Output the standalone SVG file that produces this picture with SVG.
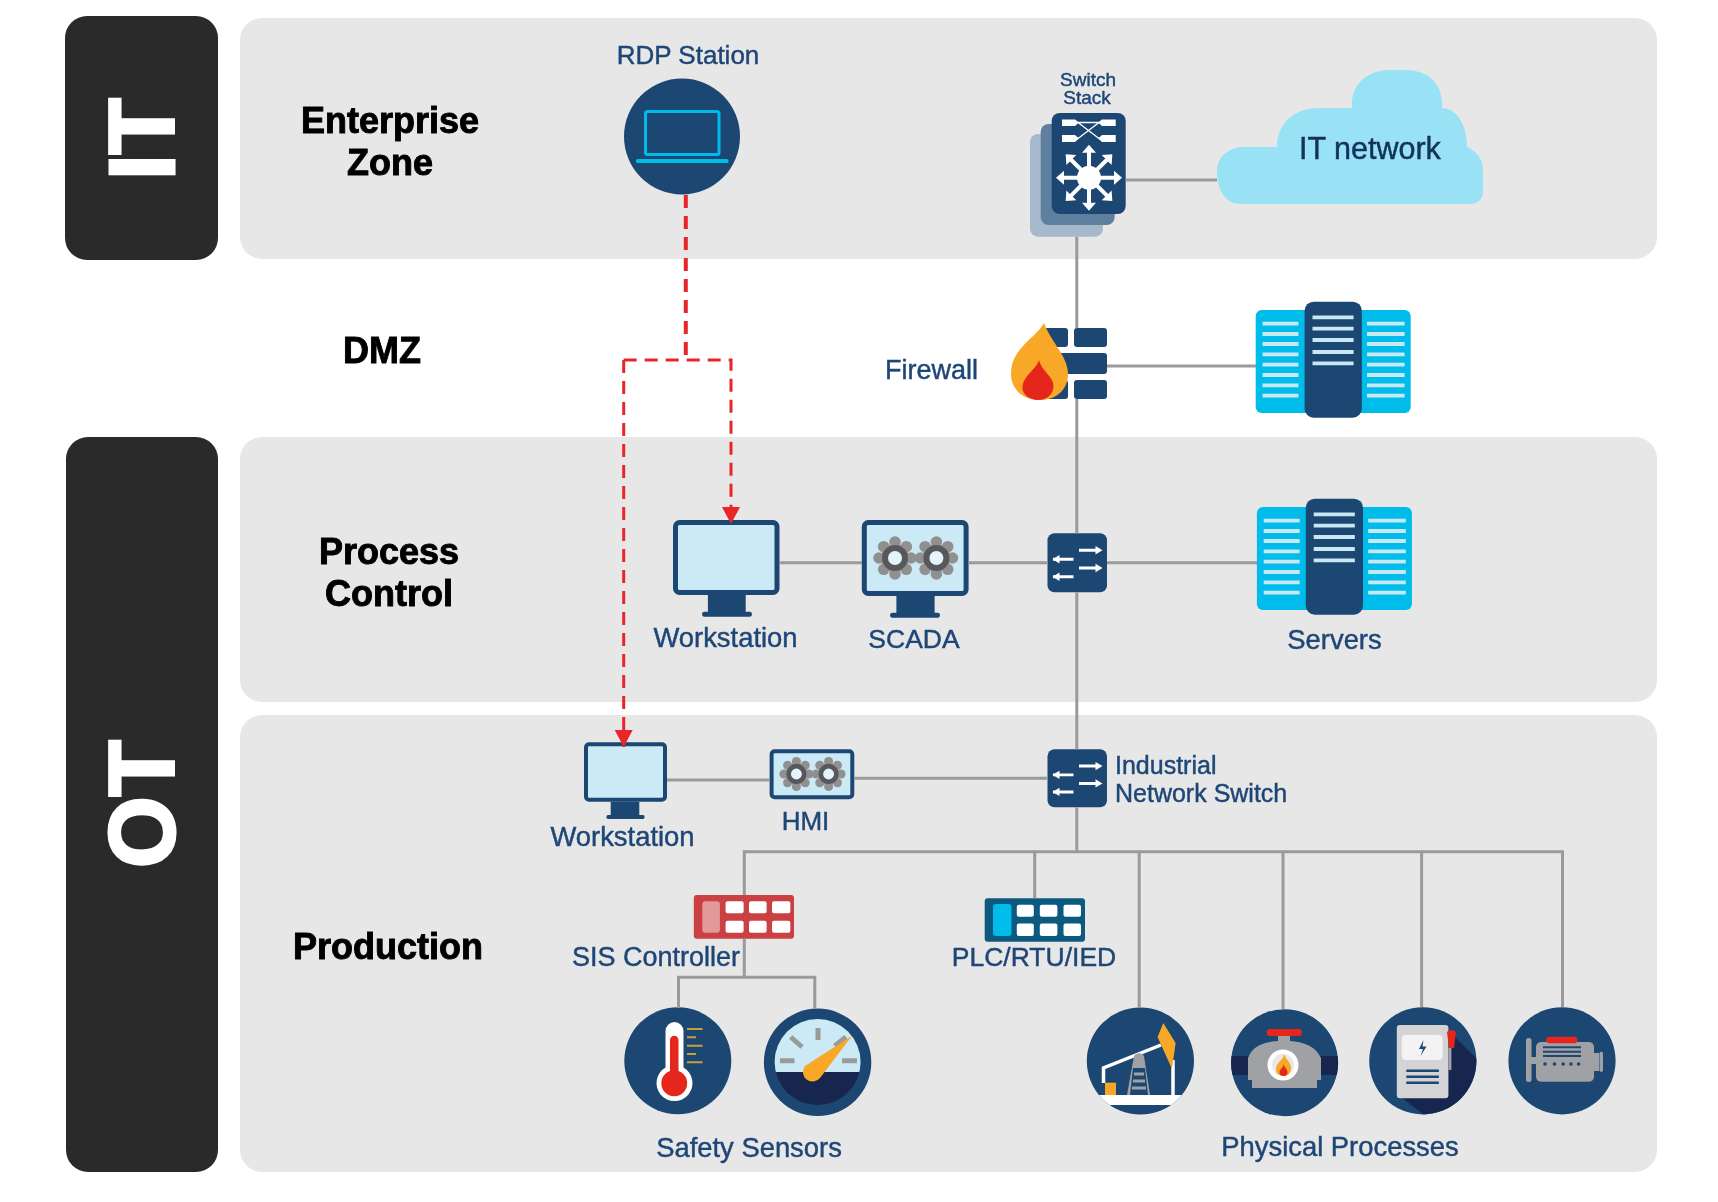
<svg xmlns="http://www.w3.org/2000/svg" xmlns:xlink="http://www.w3.org/1999/xlink" width="1718" height="1202" viewBox="0 0 1718 1202">
<style>
text{font-family:"Liberation Sans",Arial,sans-serif}
.panel{fill:#e7e7e7}
.side{fill:#292929}
.band{fill:#fff;stroke:#fff;stroke-width:3;font-weight:700;font-size:92px}
.zone{fill:#000;stroke:#000;stroke-width:.9;font-weight:700;font-size:36px;text-anchor:middle}
.lbl{fill:#1f4677;stroke:#1f4677;stroke-width:.45;font-size:27.400px}
.mid{text-anchor:middle}
.navy{fill:#1c4673}
.deep{fill:#12284f}
.sky{fill:#00bceb}
.grey{fill:#a0a1a5}
.screen{fill:#cbeaf6;stroke:#1c4673;stroke-width:5}
.link{fill:none;stroke:#9a9a9a;stroke-width:3}
.rdp{fill:none;stroke:#e8262a;stroke-width:3;stroke-dasharray:13 8}
.cell{fill:#fff}
.wht{fill:#fff}
.whs{fill:none;stroke:#fff;stroke-width:3.500}
.red{fill:#e5261c}
.org{fill:#f8a825}
</style>
<defs>
<filter id="soft" x="0" y="0" width="100%" height="100%"><feGaussianBlur stdDeviation="0.7"/></filter>
<marker id="arrow" markerUnits="userSpaceOnUse" markerWidth="18" markerHeight="18" refX="16" refY="8.500" orient="auto" viewBox="0 0 16 17"><path d="M0 0L16 8.500L0 17Z" fill="#e8262a"/></marker>
<g id="gear">
<g fill="#909090"><circle r="14"/><circle cy="-16" r="5.800"/><circle cy="16" r="5.800"/><circle cx="16" r="5.800"/><circle cx="-16" r="5.800"/><circle cx="11.300" cy="11.300" r="5.800"/><circle cx="-11.300" cy="11.300" r="5.800"/><circle cx="11.300" cy="-11.300" r="5.800"/><circle cx="-11.300" cy="-11.300" r="5.800"/></g>
<circle r="10" fill="#e4f4fa" stroke="#58595b" stroke-width="6"/>
</g>
<g id="swArrows">
<rect width="59.500" height="59" rx="7" class="navy"/>
<path d="M31.500 17H52M5.500 26H26M31.500 34.700H52M5.500 43.400H26" fill="none" stroke="#fff" stroke-width="3"/>
<path class="wht" d="M55 17L48 12.800V21.200ZM5 26L12 21.800V30.200ZM55 34.700L48 30.500V38.900ZM5 43.400L12 39.200V47.600Z"/>
</g>
<g id="rack">
<rect x="1255.700" y="310" width="155" height="103" rx="6" class="sky"/>
<rect x="1304.600" y="301.700" width="57.200" height="116" rx="9" class="navy"/>
<path d="M1262.500 323.700h36m-36 10.300h36m-36 10h36m-36 10.300h36m-36 10.400h36m-36 10.300h36m-36 10.300h36m-36 10.400h36M1367 323.700h37.600m-37.600 10.300h37.600m-37.600 10h37.600m-37.600 10.300h37.600m-37.600 10.400h37.600m-37.600 10.300h37.600m-37.600 10.300h37.600m-37.600 10.400h37.600M1312.500 317.300h41.100m-41.100 11.400h41.100m-41.100 11.300h41.100m-41.100 12h41.100m-41.100 11.300h41.100" fill="none" stroke="#c8e8f4" stroke-width="3.800"/>
</g>
<path id="ray" d="M0 -2H25V-7L33 0L25 7V2H0Z" fill="#fff"/>
<clipPath id="cPump"><circle cx="1140.400" cy="1061" r="53.600"/></clipPath>
<clipPath id="cValve"><circle cx="1284.600" cy="1062.700" r="53.500"/></clipPath>
<clipPath id="cPanel"><circle cx="1422.800" cy="1060.800" r="53.600"/></clipPath>
<clipPath id="cDial"><circle cx="817.600" cy="1062" r="43"/></clipPath>
</defs>
<rect width="1718" height="1202" fill="#fff"/>
<g filter="url(#soft)">
<g id="zones">
<rect class="side" x="65" y="16" width="153" height="244" rx="22"/>
<rect class="side" x="66" y="437" width="152" height="735" rx="22"/>
<rect class="panel" x="240" y="18" width="1417" height="241" rx="22"/>
<rect class="panel" x="240" y="437" width="1417" height="265" rx="22"/>
<rect class="panel" x="240" y="715" width="1417" height="457" rx="22"/>
<text class="band" transform="translate(174,180) rotate(-90)">IT</text>
<text class="band" transform="translate(174,868) rotate(-90)">OT</text>
<text class="zone" x="390" y="133">Enterprise</text>
<text class="zone" x="390" y="175">Zone</text>
<text class="zone" x="382" y="363">DMZ</text>
<text class="zone" x="389" y="563.500">Process</text>
<text class="zone" x="389" y="605.500">Control</text>
<text class="zone" x="388" y="959">Production</text>
</g>
<g id="rdp-station">
<text class="lbl mid" style="font-size:26px" x="688" y="64">RDP Station</text>
<circle cx="682" cy="136.500" r="58" class="navy"/>
<rect x="645.500" y="111.500" width="73.500" height="43" rx="2" fill="none" stroke="#00bceb" stroke-width="3"/>
<rect x="636" y="159" width="92.500" height="4" rx="1.500" class="sky"/>
</g>
<g id="switch-stack">
<text class="lbl mid" style="font-size:19px" x="1088" y="86">Switch</text>
<text class="lbl mid" style="font-size:19px" x="1087" y="104">Stack</text>
<rect x="1030" y="134" width="73" height="102.700" rx="8" fill="#a5b8cc"/>
<rect x="1040.700" y="124" width="74" height="101" rx="8" fill="#5f7f9f"/>
<rect x="1051.700" y="113" width="74" height="101" rx="8" class="navy"/>
<path class="wht" d="M1062 119.500H1075L1079 122.500L1075 126H1062ZM1115.700 119.500H1102L1098 122.500L1102 126H1115.700ZM1062 135H1075L1079 138.500L1075 142H1062ZM1115.700 135H1102L1098 138.500L1102 142H1115.700Z"/>
<path d="M1078 122.500L1099 138.500M1078 138.500L1099 122.500M1078 122.500H1099" stroke="#fff" stroke-width="1.300" fill="none"/>
<g transform="translate(1089,177.700)">
<use xlink:href="#ray" href="#ray"/>
<use xlink:href="#ray" href="#ray" transform="rotate(45)"/>
<use xlink:href="#ray" href="#ray" transform="rotate(90)"/>
<use xlink:href="#ray" href="#ray" transform="rotate(135)"/>
<use xlink:href="#ray" href="#ray" transform="rotate(180)"/>
<use xlink:href="#ray" href="#ray" transform="rotate(225)"/>
<use xlink:href="#ray" href="#ray" transform="rotate(270)"/>
<use xlink:href="#ray" href="#ray" transform="rotate(315)"/>
<circle r="12" fill="#fff"/>
</g>
</g>
<g id="it-network">
<path fill="#99e2f6" d="M1240 204C1226 204 1217 190 1217 172C1217 157 1228 147 1245 147H1277C1277 124 1293 108 1320 108H1352C1350 84 1368 70 1390 70H1405C1428 70 1444 84 1442 108C1456 108 1467 124 1467 147C1477 151 1483 160 1483 170V191C1483 199 1478 204 1470 204Z"/>
<text x="1299" y="159" fill="#12325a" stroke="#12325a" stroke-width=".45" style="font-size:30.500px">IT network</text>
</g>
<g id="firewall">
<text class="lbl" style="font-size:27px" x="885" y="378.500">Firewall</text>
<g class="navy">
<rect x="1040" y="328" width="28" height="19" rx="3"/><rect x="1074" y="328" width="33" height="19" rx="3"/>
<rect x="1040" y="353" width="67" height="21" rx="3"/>
<rect x="1040" y="380" width="28" height="19" rx="3"/><rect x="1074" y="380" width="33" height="19" rx="3"/>
</g>
<path class="org" d="M1044 323C1036 338 1011 348 1011 374C1011 390 1024 400 1040 400C1056 400 1068 390 1068 374C1068 356 1052 344 1044 323Z"/>
<path class="red" d="M1039 360C1036 370 1022.500 376 1022.500 388C1022.500 395 1030 400 1038 400C1047 400 1053.500 394 1053.500 386C1053.500 376 1042 372 1039 360Z"/>
</g>
<g id="dmz-servers"><use xlink:href="#rack" href="#rack"/></g>
<g id="workstation-1">
<rect class="screen" x="675.500" y="522.500" width="101.500" height="70" rx="4"/>
<path class="navy" d="M707.900 595H745.700V611.700H750Q752 612 752 614.200T750 616.700H704Q702 616.500 702 614.200T704 611.700H707.900Z"/>
<text class="lbl mid" x="725.500" y="646.500">Workstation</text>
</g>
<g id="scada">
<rect class="screen" x="864.300" y="522.500" width="101.800" height="71" rx="4"/>
<use xlink:href="#gear" href="#gear" transform="translate(895,558)"/>
<use xlink:href="#gear" href="#gear" transform="translate(936.400,558)"/>
<path class="navy" d="M896.400 596H934.600V612.700H938Q940 613 940 615.200T938 617.700H892Q890 617.500 890 615.200T892 612.700H896.400Z"/>
<text class="lbl mid" style="font-size:26.500px" x="914" y="647.500">SCADA</text>
</g>
<g id="process-switch"><use xlink:href="#swArrows" href="#swArrows" transform="translate(1047.500,533.300)"/></g>
<g id="process-servers">
<use xlink:href="#rack" href="#rack" transform="translate(1.200,197)"/>
<text class="lbl mid" x="1334.500" y="648.500">Servers</text>
</g>
<g id="workstation-2">
<rect class="screen" style="stroke-width:4" x="586" y="744.300" width="79" height="55.500" rx="3"/>
<path class="navy" d="M610.700 801.700H639.300V815H643Q644.600 815 644.600 817T643 819H608Q606.400 819 606.400 817T608 815H610.700Z"/>
<text class="lbl mid" x="622.500" y="845.500">Workstation</text>
</g>
<g id="hmi">
<rect class="screen" style="stroke-width:4" x="771.600" y="751.300" width="80.700" height="46" rx="3"/>
<use xlink:href="#gear" href="#gear" transform="translate(796.400,774) scale(.78)"/>
<use xlink:href="#gear" href="#gear" transform="translate(828.600,774) scale(.78)"/>
<text class="lbl mid" style="font-size:26px" x="805.500" y="829.500">HMI</text>
</g>
<g id="industrial-switch">
<use xlink:href="#swArrows" href="#swArrows" transform="translate(1047.500,749.300) scale(1,.983)"/>
<text class="lbl" style="font-size:25px" x="1115" y="774">Industrial</text>
<text class="lbl" style="font-size:25px" x="1115" y="802">Network Switch</text>
</g>
<g id="sis-controller">
<rect x="693.800" y="895" width="100.200" height="43.700" rx="3" fill="#cb4043"/>
<rect x="702.300" y="901.300" width="17.600" height="31.400" rx="3" fill="#e3989a"/>
<g class="cell">
<rect x="725.600" y="901.300" width="18" height="12" rx="2"/><rect x="749" y="901.300" width="17.600" height="12" rx="2"/><rect x="772" y="901.300" width="18.300" height="12" rx="2"/>
<rect x="725.600" y="920.700" width="18" height="12" rx="2"/><rect x="749" y="920.700" width="17.600" height="12" rx="2"/><rect x="772" y="920.700" width="18.300" height="12" rx="2"/>
</g>
<text class="lbl" style="font-size:27px" x="572" y="965.500">SIS Controller</text>
</g>
<g id="plc-rtu-ied">
<rect x="984.700" y="898.300" width="100.300" height="43.400" rx="3" fill="#0a5a80"/>
<rect x="993" y="904" width="18.500" height="32" rx="3" class="sky"/>
<g class="cell">
<rect x="1016.800" y="904.700" width="17" height="12" rx="2"/><rect x="1039.800" y="904.700" width="17.600" height="12" rx="2"/><rect x="1063.500" y="904.700" width="17.500" height="12" rx="2"/>
<rect x="1016.800" y="923.500" width="17" height="12.500" rx="2"/><rect x="1039.800" y="923.500" width="17.600" height="12.500" rx="2"/><rect x="1063.500" y="923.500" width="17.500" height="12.500" rx="2"/>
</g>
<text class="lbl mid" style="font-size:26.500px" x="1034" y="966">PLC/RTU/IED</text>
</g>
<g id="temperature-sensor">
<circle cx="677.800" cy="1060.700" r="53.500" class="navy"/>
<path class="wht" d="M665.500 1031A9 9 0 0 1 683.500 1031V1067.500A18 18 0 1 1 665.500 1067.500Z"/>
<path class="red" d="M670 1040A4.200 4.200 0 0 1 678.500 1040V1071A13 13 0 1 1 670 1071Z"/>
<path d="M687 1029h15.600M687 1037.300h9M687 1045.700h15.600M687 1054h9M687 1062.300h15.600" stroke="#c9a038" stroke-width="2" fill="none"/>
</g>
<g id="pressure-sensor">
<circle cx="817.600" cy="1062.300" r="53.700" class="navy"/>
<g clip-path="url(#cDial)">
<rect x="770" y="1015" width="96" height="57" fill="#cbeaf6"/>
<rect x="770" y="1072" width="96" height="40" class="deep"/>
</g>
<path d="M818 1028V1040M790.700 1037L802 1047M846 1037L834.700 1046M780 1060.700H794.500M842 1060.700H857" stroke="#9a9a9a" stroke-width="5" fill="none"/>
<path class="org" d="M852 1035.700L820 1078A9 9 0 0 1 805 1066Z"/>
<text class="lbl mid" x="749" y="1156.500">Safety Sensors</text>
</g>
<g id="pump-process">
<circle cx="1140.400" cy="1061" r="53.600" class="navy"/>
<g clip-path="url(#cPump)"><rect x="1085" y="1095" width="110" height="10" fill="#fff"/></g>
<rect x="1105" y="1082.700" width="11" height="12.300" class="org"/>
<path d="M1103.500 1083V1068L1161 1045M1173 1060V1095" class="whs"/>
<path class="grey" d="M1134 1056A6 6 0 0 1 1144 1056L1150 1095H1127Z"/>
<path d="M1133 1068h12l3 27h-18Z" class="navy"/>
<path d="M1134 1074h10M1133 1081h12M1132 1088h14" stroke="#a0a1a5" stroke-width="3" fill="none"/>
<path class="org" d="M1163.300 1023L1175.600 1043L1172 1069L1157.600 1037Z"/>
</g>
<g id="valve-process">
<circle cx="1284.600" cy="1062.700" r="53.500" class="navy"/>
<g clip-path="url(#cValve)"><rect x="1230" y="1056" width="110" height="19" class="deep"/></g>
<path class="grey" d="M1278 1036V1041C1262 1042 1252 1047 1248 1058V1080H1252V1088H1317V1080H1321V1058C1316 1047 1305 1042 1290 1041V1036Z"/>
<rect x="1266.700" y="1029" width="35.200" height="7" rx="3" fill="#e5261c"/>
<circle cx="1283" cy="1065" r="15.500" fill="#fff"/>
<circle cx="1283" cy="1065" r="11" fill="#d8d8d8" opacity=".6"/>
<path class="org" d="M1284 1054C1284 1060 1276 1062 1276 1069C1276 1074 1280 1076 1283.500 1076C1288 1076 1291 1073 1291 1068C1291 1062 1286 1060 1284 1054Z"/>
<path class="red" d="M1283.500 1064C1283.500 1068 1279.500 1069 1279.500 1072A4 4 0 0 0 1287.500 1072C1287.500 1069 1284.500 1068 1283.500 1064Z"/>
</g>
<g id="panel-process">
<circle cx="1422.800" cy="1060.800" r="53.600" class="navy"/>
<g clip-path="url(#cPanel)"><path class="deep" d="M1448 1030L1480 1062V1118H1428L1397 1094Z"/></g>
<rect x="1396.800" y="1025" width="51.600" height="73.300" rx="3" fill="#d4d4d6"/>
<rect x="1401.700" y="1035" width="41" height="25" rx="4" fill="#f3f3f3"/>
<path d="M1423.500 1040L1419 1049H1423L1420.500 1056L1426.500 1046.500H1422.500Z" fill="#1c4673"/>
<path d="M1406.300 1070.700h32.600m-32.600 6h32.600m-32.600 6h32.600" stroke="#1c4673" stroke-width="2.400" fill="none"/>
<rect x="1448.400" y="1048" width="3" height="22" fill="#a0a1a5"/>
<path d="M1447 1032Q1451 1028 1456 1032L1454 1048H1449Z" fill="#e5261c"/>
</g>
<g id="motor-process">
<circle cx="1562" cy="1060.800" r="53.600" class="navy"/>
<rect x="1526" y="1038" width="5.500" height="44" rx="2.500" class="grey"/>
<rect x="1531" y="1057" width="6" height="7" class="grey"/>
<rect x="1536" y="1042" width="58" height="39.700" rx="5" class="grey"/>
<rect x="1594" y="1053" width="5" height="18" class="grey"/>
<rect x="1599.500" y="1051.700" width="3.500" height="20" rx="1.500" class="grey"/>
<rect x="1546" y="1036.700" width="31.400" height="6.500" rx="3" fill="#e5261c"/>
<path d="M1543 1047.300h38m-38 4.400h38m-38 4.300h38" stroke="#1c4673" stroke-width="2" fill="none"/>
<g class="navy"><circle cx="1545" cy="1064" r="1.800"/><circle cx="1554.500" cy="1064" r="1.800"/><circle cx="1563.200" cy="1064" r="1.800"/><circle cx="1571" cy="1064" r="1.800"/><circle cx="1578.600" cy="1064" r="1.800"/></g>
<text class="lbl mid" x="1340" y="1155.500">Physical Processes</text>
</g>
<g id="connectors">
<path class="link" d="M1125.700 180H1217M1076.800 236.700V328M1076.800 399V533.300M1076.800 592.300V749.300M1076.800 807.300V852M1107 366H1256M780 562.700H862M968.600 562.700H1047.500M1107 562.700H1257M667 780H769.600M854.300 778.300H1047.500"/>
<path class="link" d="M744.300 895V851.700H1562.500V1007M1034.700 851.700V898.300M1139.200 851.700V1007M1283 851.700V1009M1421.600 851.700V1007M744.300 938.700V977.300M678.500 1008V977.300H814.800V1009"/>
<path class="rdp" style="stroke-width:4" d="M685.800 195V360"/>
<path class="rdp" d="M623.700 360H731V524" marker-end="url(#arrow)"/>
<path class="rdp" d="M623.700 360V747" marker-end="url(#arrow)"/>
</g>
</g>
</svg>
